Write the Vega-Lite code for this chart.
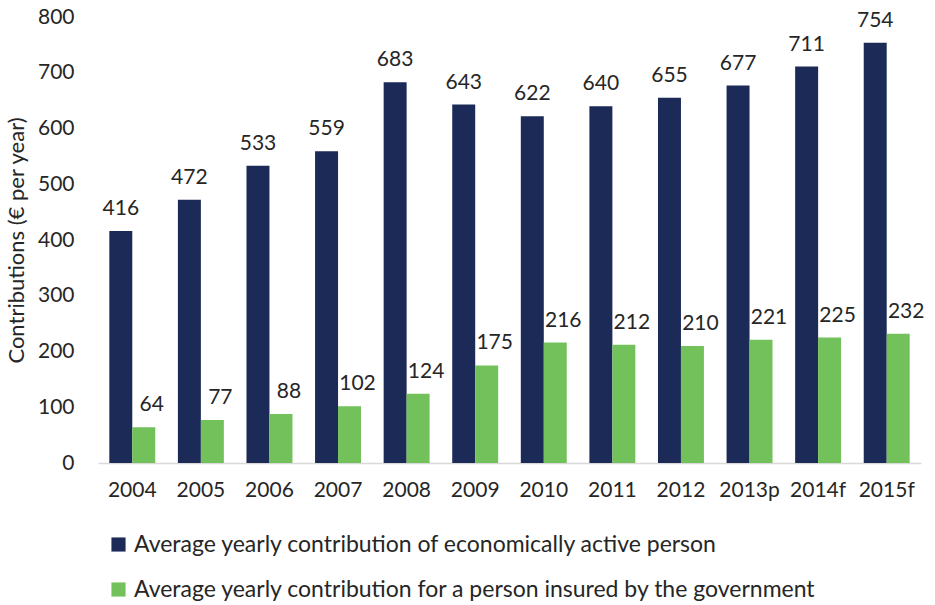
{
  "$schema": "https://vega.github.io/schema/vega-lite/v6.json",
  "autosize": "none",
  "width": 823,
  "height": 446,
  "padding": {"left": 98, "top": 17, "right": 14, "bottom": 142},
  "background": "white",
  "config": {
    "font": "Lato",
    "view": {"stroke": null},
    "axis": {"grid": false, "ticks": false, "labelColor": "#262626", "titleColor": "#262626", "labelFont": "Lato", "titleFont": "Lato"}
  },
  "data": {
    "values": [
      {"year": "2004", "series": "Average yearly contribution of economically active person", "value": 416},
      {"year": "2005", "series": "Average yearly contribution of economically active person", "value": 472},
      {"year": "2006", "series": "Average yearly contribution of economically active person", "value": 533},
      {"year": "2007", "series": "Average yearly contribution of economically active person", "value": 559},
      {"year": "2008", "series": "Average yearly contribution of economically active person", "value": 683},
      {"year": "2009", "series": "Average yearly contribution of economically active person", "value": 643},
      {"year": "2010", "series": "Average yearly contribution of economically active person", "value": 622},
      {"year": "2011", "series": "Average yearly contribution of economically active person", "value": 640},
      {"year": "2012", "series": "Average yearly contribution of economically active person", "value": 655},
      {"year": "2013p", "series": "Average yearly contribution of economically active person", "value": 677},
      {"year": "2014f", "series": "Average yearly contribution of economically active person", "value": 711},
      {"year": "2015f", "series": "Average yearly contribution of economically active person", "value": 754},
      {"year": "2004", "series": "Average yearly contribution for a person insured by the government", "value": 64},
      {"year": "2005", "series": "Average yearly contribution for a person insured by the government", "value": 77},
      {"year": "2006", "series": "Average yearly contribution for a person insured by the government", "value": 88},
      {"year": "2007", "series": "Average yearly contribution for a person insured by the government", "value": 102},
      {"year": "2008", "series": "Average yearly contribution for a person insured by the government", "value": 124},
      {"year": "2009", "series": "Average yearly contribution for a person insured by the government", "value": 175},
      {"year": "2010", "series": "Average yearly contribution for a person insured by the government", "value": 216},
      {"year": "2011", "series": "Average yearly contribution for a person insured by the government", "value": 212},
      {"year": "2012", "series": "Average yearly contribution for a person insured by the government", "value": 210},
      {"year": "2013p", "series": "Average yearly contribution for a person insured by the government", "value": 221},
      {"year": "2014f", "series": "Average yearly contribution for a person insured by the government", "value": 225},
      {"year": "2015f", "series": "Average yearly contribution for a person insured by the government", "value": 232}
    ]
  },
  "encoding": {
    "x": {
      "field": "year", "type": "nominal", "sort": null,
      "scale": {"paddingInner": 0.33, "paddingOuter": 0.165},
      "axis": {"title": null, "labelAngle": 0, "labelFontSize": 21, "labelPadding": 16, "domainColor": "#d9d9d9", "domainWidth": 1.5}
    },
    "xOffset": {
      "field": "series", "type": "nominal",
      "sort": ["Average yearly contribution of economically active person", "Average yearly contribution for a person insured by the government"]
    },
    "y": {
      "field": "value", "type": "quantitative",
      "scale": {"domain": [0, 800]},
      "axis": {"title": "Contributions (€ per year)", "values": [0, 100, 200, 300, 400, 500, 600, 700, 800], "domain": false, "labelFontSize": 21, "labelPadding": 24, "titleFontSize": 22, "titleFontWeight": "normal", "titlePadding": 9}
    }
  },
  "layer": [
    {
      "mark": {"type": "bar"},
      "encoding": {
        "color": {
          "field": "series", "type": "nominal",
          "sort": ["Average yearly contribution of economically active person", "Average yearly contribution for a person insured by the government"],
          "scale": {"range": ["#1b2a56", "#72c15a"]},
          "legend": {
            "title": null, "orient": "none", "legendX": 9, "legendY": 516,
            "direction": "vertical", "symbolType": "square", "symbolSize": 200,
            "symbolStrokeWidth": 0, "labelFontSize": 23, "labelColor": "#262626",
            "rowPadding": 21, "labelLimit": 900, "labelOffset": 4
          }
        }
      }
    },
    {
      "transform": [{"filter": "datum.series == 'Average yearly contribution of economically active person'"}],
      "mark": {"type": "text", "baseline": "middle", "align": "center", "dy": -22, "fontSize": 21, "color": "#262626"},
      "encoding": {"text": {"field": "value", "type": "quantitative"}}
    },
    {
      "transform": [{"filter": "datum.series == 'Average yearly contribution for a person insured by the government'"}],
      "mark": {"type": "text", "baseline": "middle", "align": "center", "dy": -22, "dx": 8, "fontSize": 21, "color": "#262626"},
      "encoding": {"text": {"field": "value", "type": "quantitative"}}
    }
  ]
}
